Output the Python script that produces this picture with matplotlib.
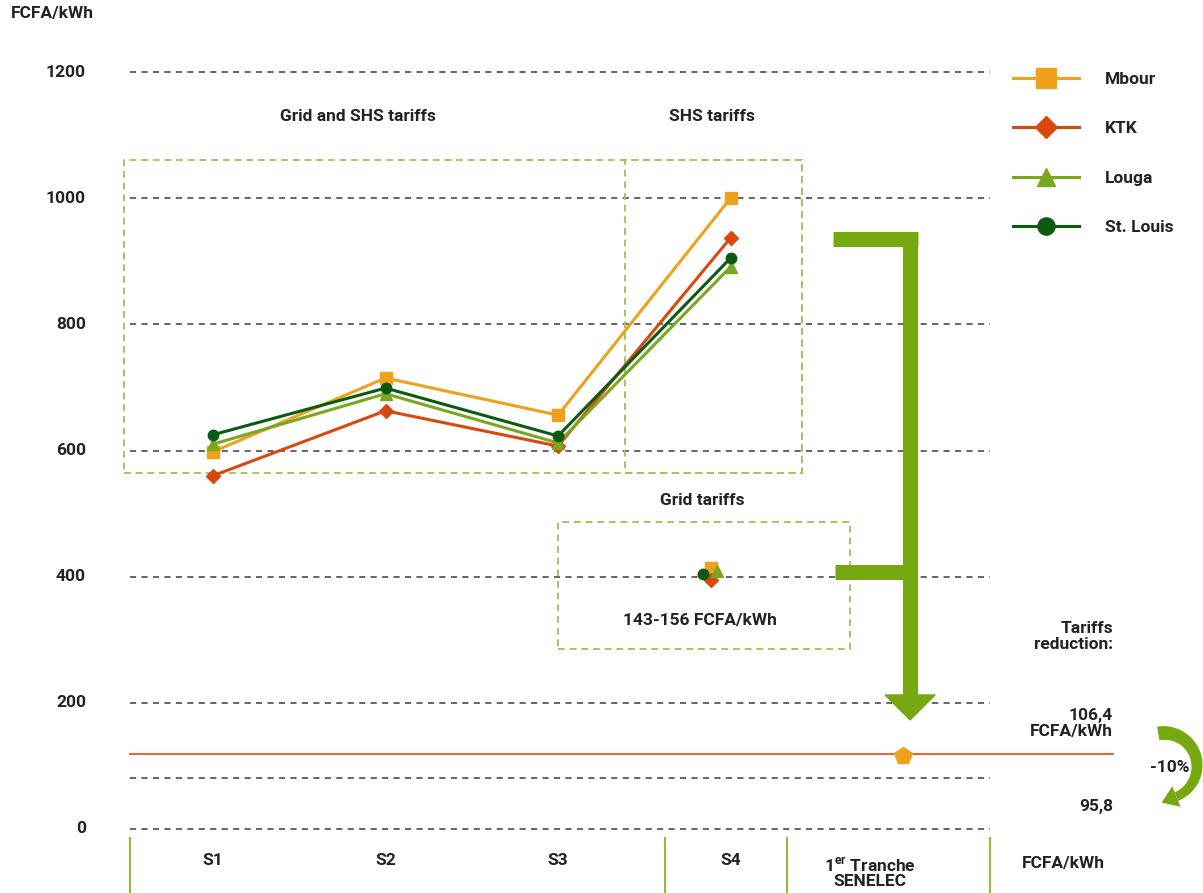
import numpy as np
import matplotlib.pyplot as plt
from matplotlib.patches import Rectangle, Polygon

plt.rcParams['font.family'] = ['Roboto', 'DejaVu Sans']

# data
stages = ['S1', 'S2', 'S3', 'S4']
x_stage = [1, 2, 3, 4]
series = ['Mbour', 'KTK', 'Louga', 'St. Louis']
mbour = [598, 715, 656, 1000]
ktk = [560, 663, 607, 937]
louga = [610, 690, 612, 891]
st_louis = [625, 699, 623, 905]
# grid tariffs at S4
grid_vals = [413, 395, 409, 405]
senelec = 119
yticks = [0, 200, 400, 600, 800, 1000, 1200]
extra_grid = 81

colors = ['#f0a11c', '#d9480f', '#79a81e', '#0b5a12']
markers = ['s', 'D', '^', 'o']
arrow_green = '#76a80f'
box_green = '#a4c463'
txt = '#222222'

fig = plt.figure(figsize=(12.03, 8.93), dpi=100)
ax = fig.add_axes([0, 0, 1, 1])
ax.set_xlim(-0.2348, 6.739)
ax.set_ylim(-101.5, 1314.2)
ax.axis('off')

def tx(px):
    # pixel column -> x data
    return 1 + (px - 213) / 172.5

def ty(py):
    # pixel row -> y data
    return (829 - py) / 0.6308

x_left, x_right = 0.519, 5.504
fs = 12.5

# horizontal dashed grid
for v in yticks + [extra_grid]:
    ax.plot([x_left, x_right], [v, v], color='#3a3a3a', lw=1.1,
            dashes=(4, 3.5), zorder=1)
for v in yticks:
    ax.text(tx(86), v, str(v), ha='right', va='center',
            fontsize=fs, fontweight='bold', color=txt)
ax.text(tx(11), 1293, 'FCFA/kWh', ha='left', va='center',
        fontsize=fs, fontweight='bold', color=txt)

# dashed boxes
box_kw = dict(fill=False, ec=box_green, lw=1.4, ls=(0, (3.5, 2.5)), zorder=2)
ax.add_patch(Rectangle((0.484, 564), 4.414 - 0.484, 1060.5 - 564, **box_kw))
ax.add_patch(Rectangle((3.388, 564), 4.414 - 3.388, 1060.5 - 564, **box_kw))
ax.add_patch(Rectangle((3.0, 285), 4.693 - 3.0, 486.7 - 285, **box_kw))

# lines
data = [mbour, ktk, louga, st_louis]
sizes = [9, 7, 8, 7.5]
for vals, c, m, s, name in zip(data, colors, markers, sizes, series):
    ax.plot(x_stage, vals, color=c, lw=2.2, marker=m, ms=s, mec=c,
            label=name, zorder=4)

# grid tariff points at S4
grid_x = [3.886, 3.886, 3.92, 3.84]
for gx, gv, c, m, s in zip(grid_x, grid_vals, colors, markers, sizes):
    ax.plot([gx], [gv], marker=m, color=c, ms=s, mec=c, zorder=4)

# SENELEC tariff line
ax.plot([x_left, 6.217], [senelec, senelec], color='#e8502a', lw=1.3, zorder=3)
ax.plot([5], [senelec - 3], marker='p', color=colors[0], ms=13, mec=colors[0],
        zorder=5)

# big green arrow
arr_kw = dict(color=arrow_green, lw=10.8, solid_capstyle='butt', zorder=3)
ax.plot([4.594, 5.087], [936, 936], **arr_kw)
ax.plot([5.041, 5.041], [947, 212], **arr_kw)
ax.plot([4.606, 5.041], [406.6, 406.6], **arr_kw)
ax.add_patch(Polygon([[4.896, 212.4], [5.186, 212.4], [5.041, 172.8]],
                     closed=True, color=arrow_green, zorder=3))

# curved -10% arrow (built in pixel space, y up)
cx, cy, r = 1164, 829 - 766, 33
th = np.radians(np.linspace(100, -68, 60))
w = np.linspace(14, 9, 60) / 2
outer_x = cx + (r + w) * np.cos(th)
outer_y = cy + (r + w) * np.sin(th)
inner_x = cx + (r - w) * np.cos(th)
inner_y = cy + (r - w) * np.sin(th)
bx = np.concatenate([outer_x, inner_x[::-1]])
by = np.concatenate([outer_y, inner_y[::-1]])
ax.add_patch(Polygon(np.column_stack([tx(bx), ty(829 - by)]), closed=True,
                     color=arrow_green, lw=0, zorder=3))
t_end = th[-1]
px_end, py_end = cx + r * np.cos(t_end), cy + r * np.sin(t_end)
d = np.array([np.sin(t_end), -np.cos(t_end)])
n = np.array([np.cos(t_end), np.sin(t_end)])
hw, hl = 11, 16
head = np.array([[px_end, py_end] + n * hw,
                 [px_end, py_end] - n * hw,
                 [px_end, py_end] + d * hl])
ax.add_patch(Polygon(np.column_stack([tx(head[:, 0]), ty(829 - head[:, 1])]),
                     closed=True, color=arrow_green, lw=0, zorder=3))
ax.text(tx(1170), 98, '-10%', ha='center', va='center',
        fontsize=fs, fontweight='bold', color=txt, zorder=4)

# annotations
ax.text(tx(358), 1130, 'Grid and SHS tariffs', ha='center', va='center',
        fontsize=fs, fontweight='bold', color=txt)
ax.text(tx(712), 1130, 'SHS tariffs', ha='center', va='center',
        fontsize=fs, fontweight='bold', color=txt)
ax.text(tx(702), 521, 'Grid tariffs', ha='center', va='center',
        fontsize=fs, fontweight='bold', color=txt)
ax.text(tx(700), 331, '143-156 FCFA/kWh', ha='center', va='center',
        fontsize=fs, fontweight='bold', color=txt)
ax.text(tx(1113), 305, 'Tariffs\nreduction:', ha='right', va='center',
        fontsize=fs, fontweight='bold', color=txt, linespacing=1.05)
ax.text(tx(1113), 167, '106,4\nFCFA/kWh', ha='right', va='center',
        fontsize=fs, fontweight='bold', color=txt, linespacing=1.05)
ax.text(tx(1113), 35, '95,8', ha='right', va='center',
        fontsize=fs, fontweight='bold', color=txt)
ax.text(tx(1063), -54, 'FCFA/kWh', ha='center', va='center',
        fontsize=fs, fontweight='bold', color=txt)

# bottom category labels and separators
for xs, lab in zip(x_stage, stages):
    ax.text(xs, -50, lab, ha='center', va='center', fontsize=fs,
            fontweight='bold', color=txt)
ax.text(tx(870), -70, '1$^{\\mathregular{er}}$ Tranche\nSENELEC', ha='center',
        va='center', fontsize=fs, fontweight='bold', color=txt,
        linespacing=0.95)
for sx in [x_left, tx(665), tx(787), x_right]:
    ax.plot([sx, sx], [-14, -101.5], color='#8fbf3a', lw=1.5, zorder=2)

# legend
leg = ax.legend(loc='upper left', bbox_to_anchor=(0.842, 0.920),
                bbox_transform=fig.transFigure, frameon=False, fontsize=fs,
                handlelength=3.8, handletextpad=1.5, labelspacing=1.98,
                markerscale=1.65, borderpad=0, borderaxespad=0)
for t in leg.get_texts():
    t.set_fontweight('bold')
    t.set_color(txt)

fig.savefig('out.png', dpi=100)
